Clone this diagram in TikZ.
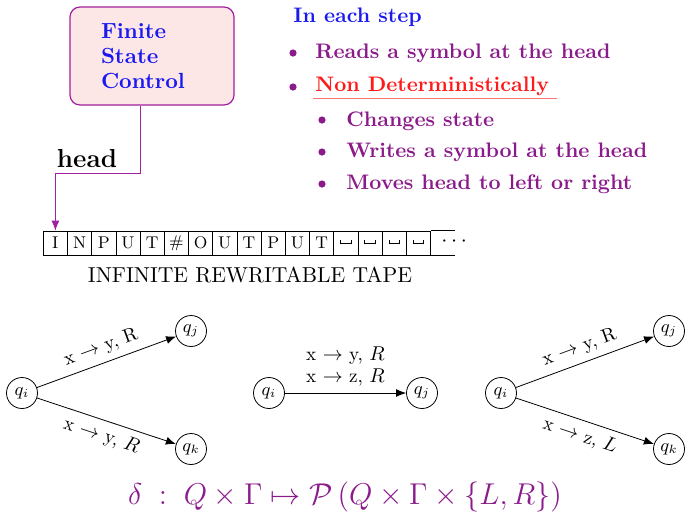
\documentclass[tikz,border=0pt]{standalone}
\usepackage{amsmath,amssymb}
\usetikzlibrary{arrows.meta,positioning}
\definecolor{Ff}{HTML}{FDE6E6}
\definecolor{Fc}{HTML}{A0209F}
\definecolor{Sc}{HTML}{1A1AF0}
\definecolor{Bc}{HTML}{8B1A8B}
\definecolor{Nc}{HTML}{FF1A1A}
\definecolor{Uc}{HTML}{FF7373}
\newcommand{\fsz}[1]{\fontsize{#1}{1.15\dimexpr#1pt}\selectfont}
\newcommand{\blank}{\raisebox{0.8pt}{\rule{0.4pt}{1.8pt}\rule{4.8pt}{0.4pt}\rule{0.4pt}{1.8pt}}}
\tikzset{
  fsc/.style={draw=Fc, fill=Ff, line width=0.6pt, rounded corners=5pt, align=left,
    text width=51pt, inner xsep=15.5pt, minimum height=49pt, text=Sc,
    font=\fontsize{10.95}{12.5}\selectfont\bfseries},
  cell/.style={draw, inner sep=0pt, minimum width=12.1pt, minimum height=12pt, font=\fsz{8.5}},
  st/.style={circle, draw, inner sep=0pt, minimum size=15.5pt, font=\small},
  link/.style={-{Latex[length=5pt,width=4pt]}},
  lbl/.style={font=\fsz{9.6}, sloped},
  blt/.style={circle, fill=Bc, inner sep=0pt, minimum size=3.6pt},
  itm/.style={anchor=base west, font=\fsz{10.5}\bfseries, text=Bc, inner sep=0pt},
}

\begin{document}
\begin{tikzpicture}[x=0.5pt,y=-0.5pt]
  \useasboundingbox (0,0) rectangle (685,516);
  % control and tape
  \node[fsc] (fsc) at (152,56) {Finite\\State\\Control};
  \foreach \s [count=\i] in {I,N,P,U,T,\#,O,U,T,P,U,T,\blank,\blank,\blank,\blank}
    \node[cell] (c\i) at ({43.3+24.2*\i-12.1},243) {\s};
  \draw (c16.north east) -- ++(24,0);
  \draw (c16.south east) -- ++(24,0);
  \node[font=\fsz{11}] (dots) at (456,242) {$\cdots$};
  \node[font=\fsz{10.8}] (cap) at (250,275) {INFINITE REWRITABLE TAPE};
  \coordinate (hb) at (140,173);
  \draw[Fc, link] (fsc.south -| hb) -- (hb) -| (c1.north);
  \node[font=\fsz{13}\bfseries, anchor=base] (hd) at (87,167) {head};
  % each step
  \node[itm, text=Sc] (stp) at (293,22) {In each step};
  \node[blt] (b1) at (293,53) {};
  \node[itm] (r1) at (315,58) {Reads a symbol at the head};
  \node[blt] (b2) at (293,87) {};
  \node[itm, text=Nc] (nd) at (315,91) {Non Deterministically};
  \draw[Uc] ([xshift=-1pt,yshift=-1.5pt]nd.south west) -- ++(244,0);
  \node[blt] (b3) at (322,120) {};
  \node[itm] (s1) at (346,126) {Changes state};
  \node[blt] (b4) at (322,152) {};
  \node[itm] (s2) at (346,157) {Writes a symbol at the head};
  \node[blt] (b5) at (322,184) {};
  \node[itm] (s3) at (346,189) {Moves head to left or right};
  % transitions
  \node[st] (li) at (22,393) {$q_i$};
  \node[st] (lj) at (191,331) {$q_j$};
  \node[st] (lk) at (191,449) {$q_k$};
  \draw[link] (li) -- node[lbl, above] {x $\rightarrow$ y, R} (lj);
  \draw[link] (li) -- node[lbl, below] {x $\rightarrow$ y, $R$} (lk);
  \node[st] (mi) at (269,393) {$q_i$};
  \node[st] (mj) at (422,393) {$q_j$};
  \draw[link] (mi) -- node[above, font=\fsz{9.6}, align=center] {x $\rightarrow$ y, $R$\\x $\rightarrow$ z, $R$} (mj);
  \node[st] (ri) at (501,393) {$q_i$};
  \node[st] (rj) at (669,331) {$q_j$};
  \node[st] (rk) at (669,449) {$q_k$};
  \draw[link] (ri) -- node[lbl, above] {x $\rightarrow$ y, R} (rj);
  \draw[link] (ri) -- node[lbl, below] {x $\rightarrow$ z, $L$} (rk);
  \node[text=Bc] (dlt) at (345,497) {\scalebox{1.045}{\Large $\delta\;:\;Q\times\Gamma\mapsto\mathcal{P}\,(Q\times\Gamma\times\{L,R\})$}};
\end{tikzpicture}
\end{document}
